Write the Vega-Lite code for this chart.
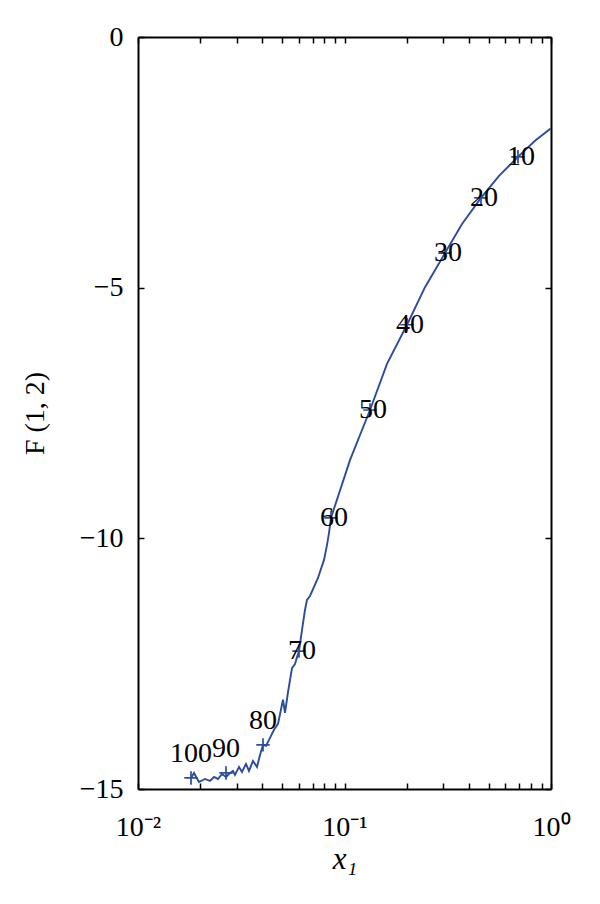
{
  "$schema": "https://vega.github.io/schema/vega-lite/v6.json",
  "width": 413,
  "height": 752,
  "autosize": {"type": "none"},
  "padding": {"left": 138, "top": 37, "right": 49, "bottom": 115},
  "background": "white",
  "view": {"stroke": null},
  "datasets": {
    "curve": [
      {"x": 0.01806, "F": -14.78},
      {"x": 0.01867, "F": -14.68},
      {"x": 0.01974, "F": -14.86},
      {"x": 0.02111, "F": -14.80},
      {"x": 0.02232, "F": -14.84},
      {"x": 0.02333, "F": -14.76},
      {"x": 0.02440, "F": -14.80},
      {"x": 0.02551, "F": -14.70},
      {"x": 0.02668, "F": -14.76},
      {"x": 0.02790, "F": -14.68},
      {"x": 0.02884, "F": -14.64},
      {"x": 0.02949, "F": -14.72},
      {"x": 0.03084, "F": -14.56},
      {"x": 0.03189, "F": -14.66},
      {"x": 0.03334, "F": -14.50},
      {"x": 0.03447, "F": -14.64},
      {"x": 0.03604, "F": -14.44},
      {"x": 0.03770, "F": -14.56},
      {"x": 0.03898, "F": -14.32},
      {"x": 0.04030, "F": -14.12},
      {"x": 0.04168, "F": -14.14},
      {"x": 0.04357, "F": -13.98},
      {"x": 0.04556, "F": -13.82},
      {"x": 0.04764, "F": -13.70},
      {"x": 0.05037, "F": -13.22},
      {"x": 0.05150, "F": -13.48},
      {"x": 0.05325, "F": -13.07},
      {"x": 0.05568, "F": -12.59},
      {"x": 0.05757, "F": -12.51},
      {"x": 0.05888, "F": -12.37},
      {"x": 0.06021, "F": -12.25},
      {"x": 0.06225, "F": -11.83},
      {"x": 0.06436, "F": -11.43},
      {"x": 0.06581, "F": -11.23},
      {"x": 0.06805, "F": -11.15},
      {"x": 0.07440, "F": -10.79},
      {"x": 0.07958, "F": -10.43},
      {"x": 0.08230, "F": -10.13},
      {"x": 0.08414, "F": -9.89},
      {"x": 0.08604, "F": -9.59},
      {"x": 0.1063, "F": -8.44},
      {"x": 0.1329, "F": -7.44},
      {"x": 0.1606, "F": -6.52},
      {"x": 0.2008, "F": -5.74},
      {"x": 0.2454, "F": -4.99},
      {"x": 0.3067, "F": -4.31},
      {"x": 0.3707, "F": -3.73},
      {"x": 0.4581, "F": -3.21},
      {"x": 0.5601, "F": -2.77},
      {"x": 0.6920, "F": -2.39},
      {"x": 0.8366, "F": -2.07},
      {"x": 1.0, "F": -1.82}
    ],
    "marks": [
      {"n": 10, "x": 0.6920, "F": -2.39},
      {"n": 20, "x": 0.4581, "F": -3.21},
      {"n": 30, "x": 0.3067, "F": -4.31},
      {"n": 40, "x": 0.2008, "F": -5.74},
      {"n": 50, "x": 0.1329, "F": -7.44},
      {"n": 60, "x": 0.08604, "F": -9.59},
      {"n": 70, "x": 0.06021, "F": -12.25},
      {"n": 80, "x": 0.04030, "F": -14.12},
      {"n": 90, "x": 0.02668, "F": -14.68},
      {"n": 100, "x": 0.01806, "F": -14.78}
    ]
  },
  "config": {
    "axis": {
      "grid": false,
      "domainColor": "black",
      "domainWidth": 2,
      "tickColor": "black",
      "tickWidth": 1.5,
      "tickSize": -6,
      "labelFont": "Liberation Serif",
      "labelFontSize": 28,
      "labelColor": "black",
      "titleFont": "Liberation Serif",
      "titleFontSize": 28,
      "titleFontWeight": "normal",
      "titleColor": "black",
      "labelOverlap": false,
      "labelFlush": false
    }
  },
  "layer": [
    {
      "data": {"name": "curve"},
      "mark": {"type": "line", "color": "#2c4c9c", "strokeWidth": 1.9, "clip": true},
      "encoding": {
        "x": {
          "field": "x", "type": "quantitative",
          "scale": {"type": "log", "domain": [0.01, 1], "nice": false},
          "axis": {
            "orient": "bottom",
            "values": [0.01, 0.02, 0.03, 0.04, 0.05, 0.06, 0.07, 0.08, 0.09, 0.1, 0.2, 0.3, 0.4, 0.5, 0.6, 0.7, 0.8, 0.9, 1],
            "labelExpr": "datum.value == 0.01 ? '10⁻²' : datum.value == 0.1 ? '10⁻¹' : datum.value == 1 ? '10⁰' : ''",
            "labelPadding": 30,
            "title": "x₁",
            "titleFontStyle": "italic",
            "titleFontSize": 31,
            "titlePadding": 3
          }
        },
        "y": {
          "field": "F", "type": "quantitative",
          "scale": {"domain": [-15, 0], "nice": false, "zero": false},
          "axis": {
            "orient": "left",
            "values": [-15, -10, -5, 0],
            "labelPadding": 21,
            "title": "F (1, 2)",
            "titlePadding": 30
          }
        }
      }
    },
    {
      "data": {"name": "marks"},
      "mark": {"type": "point", "shape": "M-1,0H1M0,-1V1", "filled": false, "color": "#2c4c9c", "strokeWidth": 1.7, "size": 180, "opacity": 1},
      "encoding": {
        "x": {
          "field": "x", "type": "quantitative",
          "scale": {"type": "log", "domain": [0.01, 1], "nice": false},
          "axis": {
            "orient": "top",
            "values": [0.01, 0.02, 0.03, 0.04, 0.05, 0.06, 0.07, 0.08, 0.09, 0.1, 0.2, 0.3, 0.4, 0.5, 0.6, 0.7, 0.8, 0.9, 1],
            "labels": false,
            "title": null
          }
        },
        "y": {
          "field": "F", "type": "quantitative",
          "scale": {"domain": [-15, 0], "nice": false, "zero": false},
          "axis": {
            "orient": "right",
            "values": [-15, -10, -5, 0],
            "labels": false,
            "title": null
          }
        }
      }
    },
    {
      "data": {"name": "marks"},
      "transform": [{"filter": "datum.n <= 70"}],
      "mark": {"type": "text", "font": "Liberation Serif", "fontSize": 28, "color": "black", "align": "center", "baseline": "middle", "dx": 3},
      "encoding": {
        "x": {"field": "x", "type": "quantitative", "scale": {"type": "log", "domain": [0.01, 1], "nice": false}, "axis": null},
        "y": {"field": "F", "type": "quantitative", "scale": {"domain": [-15, 0], "nice": false, "zero": false}, "axis": null},
        "text": {"field": "n", "type": "nominal"}
      }
    },
    {
      "data": {"name": "marks"},
      "transform": [{"filter": "datum.n >= 80"}],
      "mark": {"type": "text", "font": "Liberation Serif", "fontSize": 28, "color": "black", "align": "center", "baseline": "middle", "dy": -24},
      "encoding": {
        "x": {"field": "x", "type": "quantitative", "scale": {"type": "log", "domain": [0.01, 1], "nice": false}, "axis": null},
        "y": {"field": "F", "type": "quantitative", "scale": {"domain": [-15, 0], "nice": false, "zero": false}, "axis": null},
        "text": {"field": "n", "type": "nominal"}
      }
    }
  ],
  "resolve": {"axis": {"x": "independent", "y": "independent"}}
}
